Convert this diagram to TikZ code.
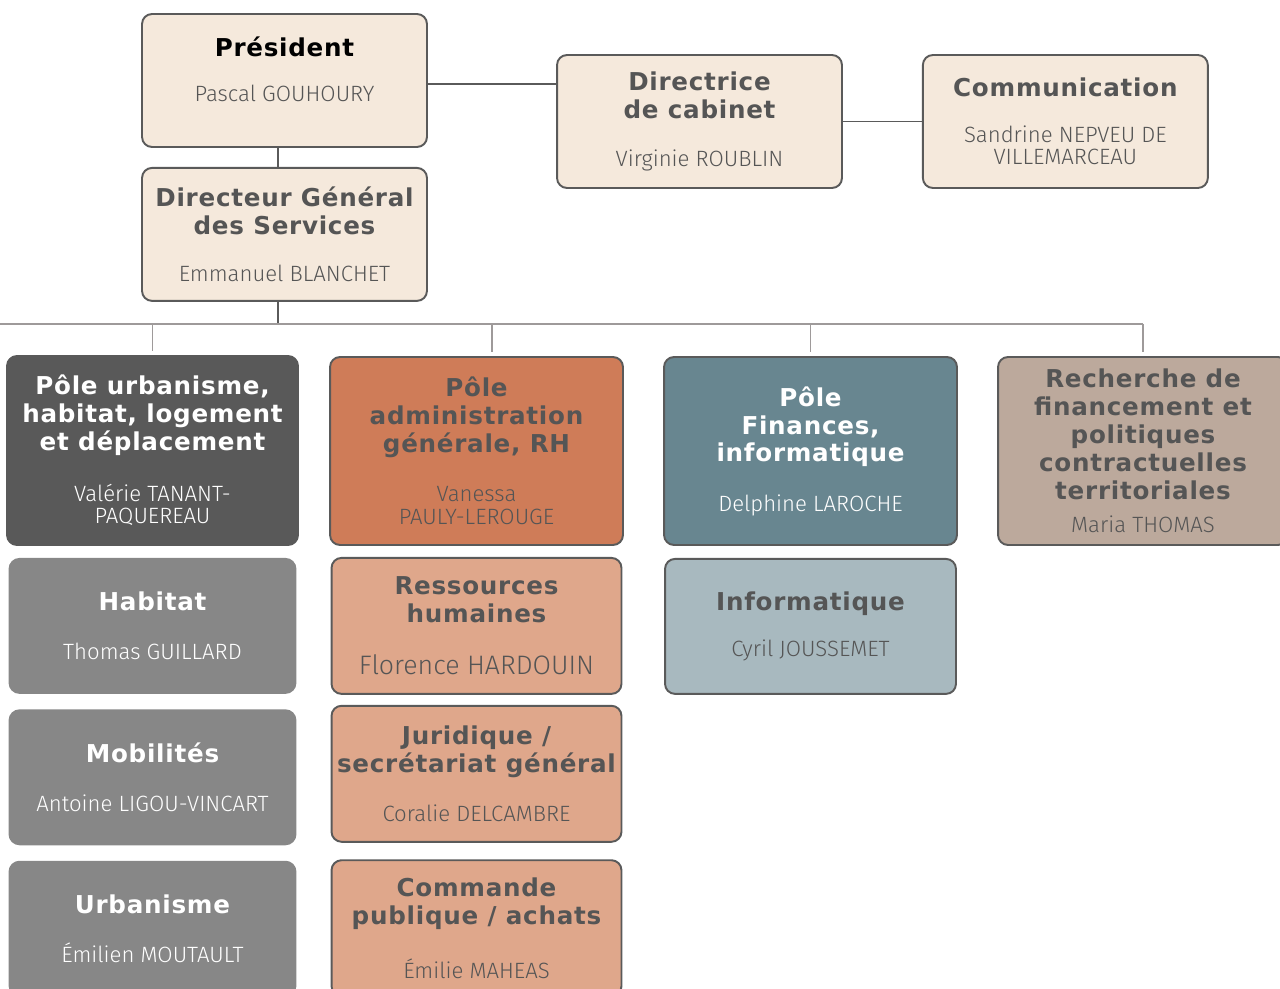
\documentclass[tikz,border=0pt]{standalone}
\usepackage{fontspec}
\usepackage{xcolor}
\usetikzlibrary{positioning}
\newfontfamily\ttlfont{DejaVu Sans}[LetterSpace=3]
\newfontfamily\nmfont{Fira Sans}[UprightFont=* Light]
\definecolor{cream}{HTML}{F5E9DC}
\definecolor{edge}{HTML}{5A5A5A}
\definecolor{busgray}{HTML}{9E9A9A}
\definecolor{txtgray}{HTML}{555555}
\definecolor{darkpole}{HTML}{595959}
\definecolor{midgray}{HTML}{878787}
\definecolor{rustpole}{HTML}{CF7C58}
\definecolor{rustlight}{HTML}{DFA78B}
\definecolor{tealpole}{HTML}{688690}
\definecolor{teallight}{HTML}{A8B9BF}
\definecolor{taupe}{HTML}{BCA99C}
\newcommand{\nm}{\nmfont\mdseries\fontsize{12.6}{13.6}\selectfont}

\begin{document}
\begin{tikzpicture}[
    x=0.02cm, y=-0.02cm,
    box/.style={draw=edge, line width=1.1pt, rounded corners=0.2cm, align=center, inner sep=1pt,
        font=\ttlfont\bfseries\fontsize{14}{15.9}\selectfont},
    topbox/.style={box, fill=cream, text=txtgray, minimum width=5.7cm, minimum height=2.66cm},
    urbpole/.style={box, fill=darkpole, draw=darkpole, text=white, minimum width=5.82cm, minimum height=3.78cm},
    urbsub/.style={box, fill=midgray, draw=midgray, text=white, minimum width=5.72cm, minimum height=2.68cm},
    admpole/.style={box, fill=rustpole, text=txtgray, minimum width=5.86cm, minimum height=3.76cm},
    admsub/.style={box, fill=rustlight, text=txtgray, minimum width=5.8cm, minimum height=2.72cm},
    finpole/.style={box, fill=tealpole, text=white, minimum width=5.86cm, minimum height=3.76cm},
    finsub/.style={box, fill=teallight, text=txtgray, minimum width=5.82cm, minimum height=2.7cm},
    rechbox/.style={box, fill=taupe, text=txtgray, minimum width=5.8cm, minimum height=3.76cm},
    link/.style={draw=edge, line width=1.1pt},
    bus/.style={draw=busgray, line width=1.1pt},
]
\useasboundingbox (0,0) rectangle (1280,989);

% direction
\node[topbox] (pres) at (284.5,80.5) {{\color{black}Président}\\[10pt]{\nm Pascal GOUHOURY}\\[-3pt]\mbox{}};
\node[topbox, below=0.38cm of pres] (dgs) {Directeur Général\\des Services\\[11pt]{\nm Emmanuel BLANCHET}};
\node[topbox] (dir) at (699.5,121.5) {Directrice\\de cabinet\\[11pt]{\nm Virginie ROUBLIN}};
\node[topbox, right=1.58cm of dir] (com) {Communication\\[10pt]{\nm Sandrine NEPVEU DE}\\[-3pt]{\nm VILLEMARCEAU}};

% poles
\node[urbpole] (pu) at (152.5,450.5) {Pôle urbanisme,\\habitat, logement\\et déplacement\\[13pt]{\nm Valérie TANANT-}\\[-3pt]{\nm PAQUEREAU}};
\node[urbsub, below=0.24cm of pu] (hab) {Habitat\\[12pt]{\nm Thomas GUILLARD}};
\node[urbsub, below=0.31cm of hab] (mob) {Mobilités\\[12pt]{\nm Antoine LIGOU-VINCART}};
\node[urbsub, below=0.31cm of mob] (urb) {Urbanisme\\[12pt]{\nm Émilien MOUTAULT}};

\node[admpole] (pa) at (476.5,451) {Pôle\\administration\\générale, RH\\[12pt]{\nm Vanessa}\\[-3pt]{\nm PAULY-LEROUGE}};
\node[admsub, below=0.22cm of pa] (rh) {Ressources\\humaines\\[14pt]{\nm\fontsize{15.2}{16}\selectfont Florence HARDOUIN}};
\node[admsub, below=0.2cm of rh] (jur) {Juridique /\\secrétariat général\\[12pt]{\nm Coralie DELCAMBRE}};
\node[admsub, below=0.33cm of jur] (cmd) {Commande\\publique / achats\\[15pt]{\nm Émilie MAHEAS}};

\node[finpole] (pf) at (810.5,451) {Pôle\\Finances,\\informatique\\[12pt]{\nm Delphine LAROCHE}};
\node[finsub, below=0.24cm of pf] (inf) {Informatique\\[10pt]{\nm Cyril JOUSSEMET}};

\node[rechbox] (rech) at (1143,451) {Recherche de\\financement et\\politiques\\contractuelles\\territoriales\\[3pt]{\nm Maria THOMAS}};

% liaisons
\draw[link] ([xshift=-0.13cm]pres.south) -- ([xshift=-0.13cm]dgs.north);
\draw[link] (pres.east |- 0,84) -- (dir.west |- 0,84);
\draw[link] (dir) -- (com);
\coordinate (busL) at (0,324);
\coordinate (busR) at (1143,324);
\coordinate (dropA) at (492,324);
\draw[link] ([xshift=-0.13cm]dgs.south) -- ([xshift=-0.13cm]dgs.south |- busL);
\draw[bus] (busL) -- (busR);
\draw[bus, shorten >=0.08cm] (busL -| pu.north) -- (pu.north);
\draw[bus, shorten >=0.08cm] (dropA) -- (dropA |- pa.north);
\draw[bus, shorten >=0.08cm] (busL -| pf.north) -- (pf.north);
\draw[bus, shorten >=0.08cm] (busR) -- (rech.north);
\end{tikzpicture}
\end{document}
